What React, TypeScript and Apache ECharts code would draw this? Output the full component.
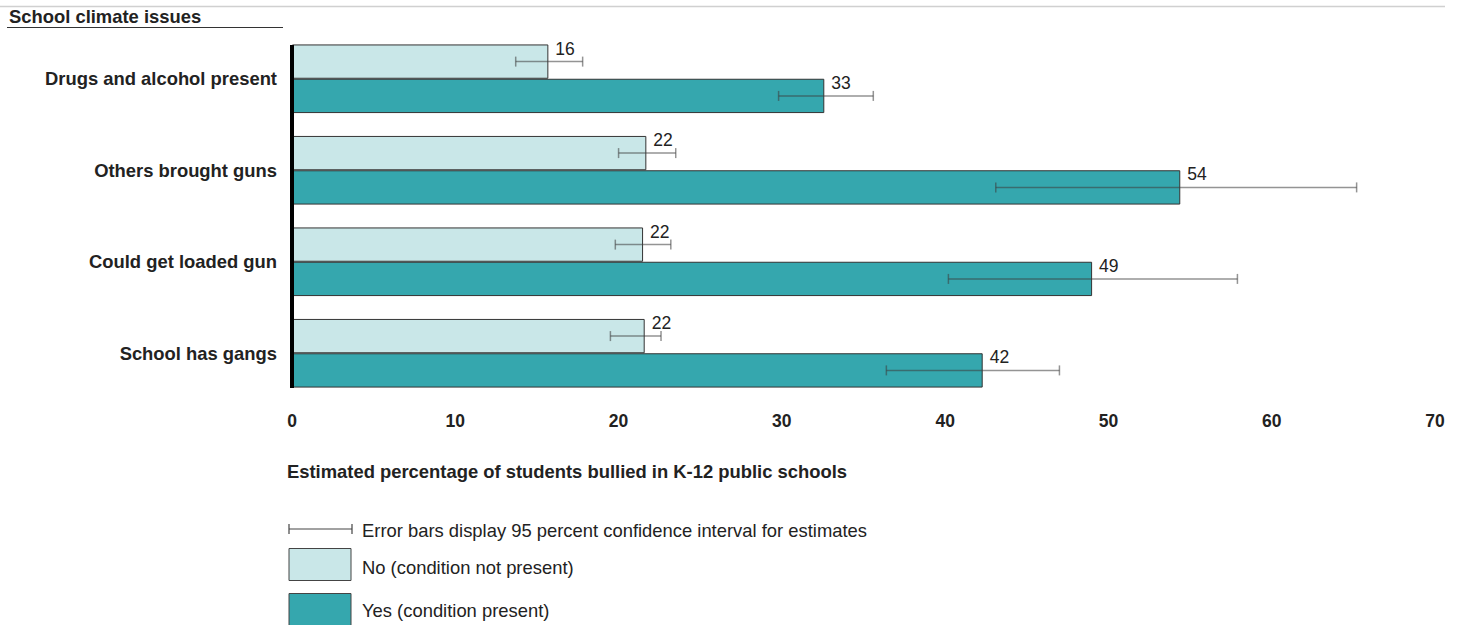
import React, { useEffect, useRef } from "react";
import * as echarts from "echarts";

const categories = [
  "Drugs and alcohol present",
  "Others brought guns",
  "Could get loaded gun",
  "School has gangs",
];
const noValues = [15.7, 21.7, 21.5, 21.6];
const yesValues = [32.6, 54.4, 49.0, 42.3];
const noLow = [13.7, 20.0, 19.8, 19.5];
const noHigh = [17.8, 23.5, 23.2, 22.6];
const yesLow = [29.8, 43.1, 40.2, 36.4];
const yesHigh = [35.6, 65.2, 57.9, 47.0];
const xTicks = { min: 0, max: 70, interval: 10 };

const FONT = "'Liberation Sans', Arial, sans-serif";
const TXT = "#222";
const NO_COLOR = "#c9e7e8";
const YES_COLOR = "#35a7ae";
const ERR_COLOR = "rgba(60,60,60,0.55)";

function errSeries(name: string, low: number[], high: number[], sign: number) {
  return {
    type: "custom",
    name,
    z: 10,
    encode: { x: [0, 1], y: 2 },
    data: low.map((l, i) => [l, high[i], i]),
    renderItem: (params: any, api: any) => {
      const a = api.coord([api.value(0), api.value(2)]);
      const b = api.coord([api.value(1), api.value(2)]);
      const band = api.size([0, 1])[1];
      const y = a[1] + sign * band * 0.1875;
      const cap = 5;
      const st = { stroke: ERR_COLOR, lineWidth: 1.5 };
      return {
        type: "group",
        children: [
          { type: "line", shape: { x1: a[0], y1: y, x2: b[0], y2: y }, style: st },
          { type: "line", shape: { x1: a[0], y1: y - cap, x2: a[0], y2: y + cap }, style: st },
          { type: "line", shape: { x1: b[0], y1: y - cap, x2: b[0], y2: y + cap }, style: st },
        ],
      };
    },
  };
}

export default function App() {
  const ref = useRef<HTMLDivElement>(null);
  useEffect(() => {
    const chart = echarts.init(ref.current!, null, { renderer: "svg" });
    const label = {
      show: true,
      position: "right",
      distance: 7,
      offset: [0, -13],
      fontSize: 17.5,
      color: TXT,
      fontFamily: FONT,
      formatter: (p: any) => String(Math.round(p.value)),
    };
    chart.setOption({
      animation: false,
      textStyle: { fontFamily: FONT },
      grid: { left: 292, right: 25, top: 33, height: 366 },
      xAxis: {
        type: "value",
        min: xTicks.min,
        max: xTicks.max,
        interval: xTicks.interval,
        axisLine: { show: false },
        axisTick: { show: false },
        splitLine: { show: false },
        axisLabel: { fontSize: 17.5, fontWeight: "bold", color: TXT, margin: 13, fontFamily: FONT },
      },
      yAxis: {
        type: "category",
        inverse: true,
        data: categories,
        axisLine: { show: false },
        axisTick: { show: false },
        axisLabel: { fontSize: 18.4, fontWeight: "bold", color: TXT, margin: 15, fontFamily: FONT },
      },
      series: [
        {
          type: "bar",
          name: "No (condition not present)",
          data: noValues,
          barGap: "0%",
          barCategoryGap: "25%",
          itemStyle: { color: NO_COLOR, borderColor: "#333", borderWidth: 1 },
          label,
        },
        {
          type: "bar",
          name: "Yes (condition present)",
          data: yesValues,
          barGap: "0%",
          barCategoryGap: "25%",
          itemStyle: { color: YES_COLOR, borderColor: "#333", borderWidth: 1 },
          label,
        },
        errSeries("noErr", noLow, noHigh, -1),
        errSeries("yesErr", yesLow, yesHigh, 1),
      ],
      graphic: [
        { type: "line", shape: { x1: 0, y1: 6.5, x2: 1445, y2: 6.5 }, style: { stroke: "#d0d0d0", lineWidth: 1.5 } },
        { type: "text", x: 9, y: 16, style: { text: "School climate issues", font: `bold 18.4px ${FONT}`, fill: TXT, verticalAlign: "middle" } },
        { type: "line", shape: { x1: 7, y1: 27.5, x2: 283, y2: 27.5 }, style: { stroke: "#333", lineWidth: 1 } },
        { type: "rect", shape: { x: 290, y: 45, width: 4, height: 343 }, style: { fill: "#000" }, z: 20 },
        { type: "text", x: 287, y: 471, style: { text: "Estimated percentage of students bullied in K-12 public schools", font: `bold 18.4px ${FONT}`, fill: TXT, verticalAlign: "middle" } },
        { type: "line", shape: { x1: 289, y1: 529, x2: 352, y2: 529 }, style: { stroke: "#444", lineWidth: 1.2 } },
        { type: "line", shape: { x1: 289, y1: 524, x2: 289, y2: 534 }, style: { stroke: "#444", lineWidth: 1.2 } },
        { type: "line", shape: { x1: 352, y1: 524, x2: 352, y2: 534 }, style: { stroke: "#444", lineWidth: 1.2 } },
        { type: "text", x: 362, y: 530, style: { text: "Error bars display 95 percent confidence interval for estimates", font: `18.4px ${FONT}`, fill: TXT, verticalAlign: "middle" } },
        { type: "rect", shape: { x: 289, y: 548.5, width: 62, height: 32 }, style: { fill: NO_COLOR, stroke: "#444", lineWidth: 1 } },
        { type: "text", x: 362, y: 567, style: { text: "No (condition not present)", font: `18.4px ${FONT}`, fill: TXT, verticalAlign: "middle" } },
        { type: "rect", shape: { x: 289, y: 593.5, width: 62, height: 32 }, style: { fill: YES_COLOR, stroke: "#444", lineWidth: 1 } },
        { type: "text", x: 362, y: 610, style: { text: "Yes (condition present)", font: `18.4px ${FONT}`, fill: TXT, verticalAlign: "middle" } },
      ],
    });
    return () => chart.dispose();
  }, []);
  return (
    <div
      ref={ref}
      style={{ position: "fixed", left: 0, top: 0, width: 1460, height: 625, background: "#fff" }}
    />
  );
}
